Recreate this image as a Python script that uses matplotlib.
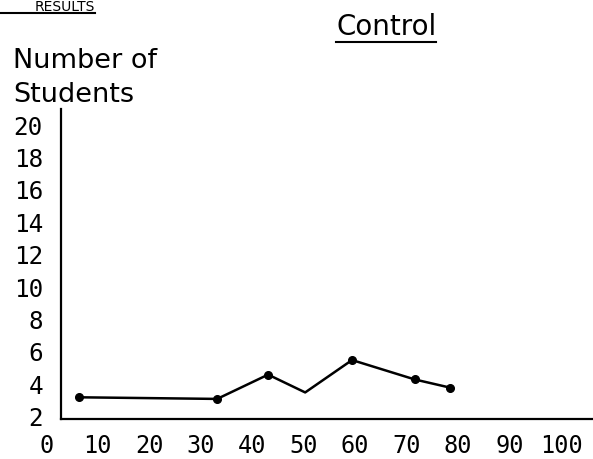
import matplotlib
matplotlib.use("Agg")
import matplotlib.pyplot as plt
from matplotlib.lines import Line2D

# score (x) vs number of students (y)
scores = [6.4, 33.2, 43.1, 50.3, 59.4, 71.6, 78.4]
students = [3.2, 3.1, 4.6, 3.5, 5.5, 4.3, 3.8]
dot_idx = [0, 1, 2, 4, 5, 6]  # the point near 50 has no dot

x_ticks = list(range(0, 101, 10))
y_ticks = list(range(2, 21, 2))

W, H = 593, 459
fig = plt.figure(figsize=(W / 100, H / 100), dpi=100)

x0, x1 = 0.0, 106.2
y0, y1 = 1.86, 21.0
ax = fig.add_axes([46.2 / W, 40 / H, (W - 46.2) / W, 310 / H])
ax.set_xlim(x0, x1)
ax.set_ylim(y0, y1)

ax.plot(scores, students, color='black', linewidth=1.8,
        marker='o', markersize=5.5, markevery=dot_idx)

for s in ['top', 'right']:
    ax.spines[s].set_visible(False)
ax.spines['left'].set_position(('data', 2.87))
ax.spines['bottom'].set_bounds(2.87, x1)
ax.spines['left'].set_linewidth(1.6)
ax.spines['bottom'].set_linewidth(1.6)

mono = 'DejaVu Sans Mono'
ax.set_xticks(x_ticks)
ax.set_xticklabels([str(t) for t in x_ticks], fontfamily=mono, fontsize=17)
ax.set_yticks(y_ticks)
ax.set_yticklabels([str(t) for t in y_ticks], fontfamily=mono, fontsize=17.5)
ax.tick_params(axis='x', length=0, pad=11)
ax.tick_params(axis='y', length=0, pad=13)

# header texts
res = fig.text(95 / W, 1 - 11 / H, 'RESULTS', ha='right', va='baseline', fontsize=10)

fig.text(13 / W, 1 - 68 / H, 'Number of', ha='left', va='baseline', fontsize=19.5)
fig.text(13 / W, 1 - 102 / H, 'Students', ha='left', va='baseline', fontsize=19.5)

ctrl = fig.text(336 / W, 1 - 35 / H, 'Control', ha='left', va='baseline', fontsize=20)
fig.canvas.draw()
inv = fig.transFigure.inverted()
bb = ctrl.get_window_extent().transformed(inv)
uy = 1 - 42 / H
fig.add_artist(Line2D([bb.x0, bb.x1], [uy, uy], color='black', linewidth=1.5))
rb = res.get_window_extent().transformed(inv)
ry = 1 - 13 / H
fig.add_artist(Line2D([0, rb.x1], [ry, ry], color='black', linewidth=1.5))

fig.savefig('out.png', dpi=100)
